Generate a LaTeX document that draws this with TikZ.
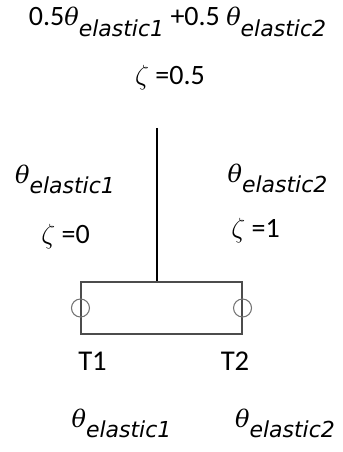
\documentclass[tikz,border=0pt]{standalone}
\usepackage{fontspec}
\setmainfont{Carlito}
\newfontfamily\elfont{DejaVu Sans}
\newfontfamily\thfont{DejaVu Serif}
\usetikzlibrary{positioning}
\newcommand\thetael[1]{{\fontsize{18}{20}\thfont\itshape θ}\raisebox{-8pt}{\fontsize{16.5}{18}\elfont\itshape elastic#1}}
\tikzset{
  mathlabel/.style={font=\fontsize{21}{24}\selectfont,inner sep=0pt,anchor=base},
  termlabel/.style={font=\fontsize{21.5}{24}\selectfont,inner sep=0pt,anchor=base},
  beamnode/.style={draw=black!70,thick,minimum width=120.75pt,minimum height=39pt,inner sep=0pt},
  hingenode/.style={circle,draw=black!55,thick,minimum size=13.5pt,inner sep=0pt},
  axisline/.style={thick,draw=black}
}
\begin{document}
\begin{tikzpicture}[x=0.75pt,y=-0.75pt]
\useasboundingbox (0,0) rectangle (342,452);
% mixed value at the top
\node[mathlabel] (mixtop) at (177.5,26) {0.5\thetael{1} +0.5 \thetael{2}};
\node[mathlabel] (zetamid) at (170,85) {$\zeta$ =0.5};
% side values
\node[mathlabel] (thetaleft) at (65,183) {\thetael{1}};
\node[mathlabel] (zetaleft) at (65.5,243) {$\zeta$ =0};
\node[mathlabel] (thetaright) at (277.5,182) {\thetael{2}};
\node[mathlabel] (zetaright) at (255.5,237) {$\zeta$ =1};
% beam with hinges
\node[beamnode] (beam) at (161.5,308) {};
\node[hingenode] (hingeL) at (beam.west) {};
\node[hingenode] (hingeR) at (beam.east) {};
\coordinate (axistop) at (157,128);
\draw[axisline] (axistop) -- (axistop |- beam.north);
\node[termlabel] (tone) at (92.5,370) {T1};
\node[termlabel] (ttwo) at (235,370) {T2};
% end values
\node[mathlabel] (thetaone) at (121.5,427) {\thetael{1}};
\node[mathlabel] (thetatwo) at (285,427) {\thetael{2}};
\end{tikzpicture}
\end{document}
